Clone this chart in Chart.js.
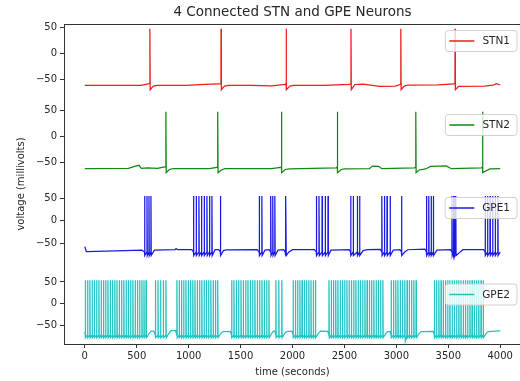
<!DOCTYPE html>
<html>
<head>
<meta charset="utf-8">
<script src="https://cdn.jsdelivr.net/npm/chart.js@4/dist/chart.umd.min.js"></script>
<style>
  html, body { margin: 0; padding: 0; background: #fff; overflow: hidden; }
  #wrap { position: relative; width: 530px; height: 381px; }
</style>
</head>
<body>
<div id="wrap"><canvas id="c"></canvas></div>
<script>
// ---------- data ----------
const seriesNames = ['STN1', 'STN2', 'GPE1', 'GPE2'];
const seriesColors = ['#ee1c1c', '#118811', '#1a1ae6', '#22c2c2'];
const xTicks = [0, 500, 1000, 1500, 2000, 2500, 3000, 3500, 4000];
const yTicks = [50, 0, -50];

// spike peak / after-spike trough / pre-spike level (mV)
const spikePeak   = [47, 48, 55, 54];
const spikeTrough = [-70, -69, -78, -78];
const spikePre    = [-58, -58, -70, -72];

// spike times (ms)
const stn1Spikes = [627, 1312, 1939, 2563, 3043, 3565];
const stn2Spikes = [781, 1280, 1894, 2432, 3187, 3830];
const gpe1Spikes = [576, 599, 618, 637,
  1047, 1073, 1099, 1124, 1150, 1176, 1201, 1224,
  1306,
  1680, 1705,
  1790, 1810, 1830,
  1930, 1937,
  2230, 2255, 2285, 2315, 2342,
  2560, 2585, 2624, 2646,
  2860, 2885, 2910, 2940,
  3050,
  3290, 3312, 3335, 3356,
  3535, 3550, 3560, 3572,
  3855, 3878, 3902, 3927, 3952, 3977];
const gpe2Spikes = [
  5, 27, 49, 71, 92, 114, 136, 158, 180, 201, 223, 245, 267, 289, 310, 332, 354, 376, 398, 419, 441, 463, 485, 507, 528, 550, 570, 590,
  680, 705, 730, 756, 781,
  887, 909, 931, 952, 974, 996, 1018, 1040, 1061, 1083, 1105, 1127, 1149, 1170, 1192, 1214, 1236, 1258, 1280,
  1414, 1436, 1459, 1481, 1504, 1526, 1549, 1571, 1594, 1616, 1638, 1661, 1683, 1706, 1728, 1751, 1773,
  1840, 1868, 1897,
  2006, 2028, 2049, 2071, 2092, 2114, 2135, 2157, 2178, 2200, 2221,
  2351, 2373, 2394, 2416, 2437, 2459, 2481, 2502, 2524, 2545, 2567, 2589, 2610, 2632, 2653, 2675, 2697, 2718, 2740, 2761, 2783, 2805, 2826, 2848, 2870,
  2950, 2972, 2994, 3015, 3037, 3059, 3081, 3103, 3124, 3146, 3168, 3190,
  3366, 3387, 3409, 3430, 3451, 3473, 3494, 3515, 3537, 3558, 3580, 3601, 3622, 3644, 3665, 3686, 3708, 3729, 3750, 3772, 3793, 3815, 3836];

// resting membrane voltage between spikes [time, mV]
const stn1Rest = [[0,-61.5],[300,-61.5],[540,-61.5],[610,-59],
  [660,-63],[700,-61.5],[980,-61.5],[1150,-60],[1300,-59],
  [1345,-63],[1380,-61.5],[1600,-61.5],[1800,-62.5],[1930,-60],
  [1975,-63],[2010,-61.5],[2300,-61.5],[2550,-60],
  [2600,-60],[2680,-59.5],[2840,-63.5],[2990,-63],[3035,-60],
  [3075,-63],[3110,-61],[3400,-60.5],[3555,-59],
  [3600,-63.5],[3850,-63],[3930,-61],[3965,-58.5],[4000,-61]];
const stn2Rest = [[0,-61.5],[420,-61],[480,-57],[522,-55],[545,-61],[600,-60],[700,-61],[770,-58],
  [815,-63],[850,-61.5],[1200,-61.5],[1270,-59],
  [1315,-64],[1350,-61.5],[1800,-61.5],[1885,-59],
  [1930,-63],[1970,-62],[2420,-60],
  [2470,-63],[2500,-62],[2740,-61.5],[2770,-56.5],[2830,-57],[2860,-61.5],[3175,-60],
  [3220,-64],[3280,-62],[3330,-57],[3480,-56],[3530,-61.5],[3818,-60],
  [3860,-66],[3900,-62],[4000,-61.5]];
const gpe1Rest = [[0,-58],[15,-69],[300,-67.5],[550,-66],
  [670,-66],[870,-64.5],[880,-62.5],[895,-65],[1030,-65],
  [1255,-65],[1290,-65],
  [1335,-67],[1360,-65.5],[1660,-64.5],
  [1735,-66],[1775,-65],
  [1860,-66],[1915,-65],
  [1965,-70],[2000,-65],[2210,-64.5],
  [2370,-66],[2545,-65],
  [2680,-67],[2720,-65],[2845,-64],
  [2970,-66],[3035,-65],
  [3080,-70],[3110,-65],[3275,-63.5],
  [3390,-66],[3520,-64.5],
  [3605,-72],[3640,-65],[3840,-64.5],
  [4000,-70]];
const gpe2Rest = [[0,-64],
  [620,-68],[640,-63],[665,-63],
  [810,-68],[830,-62],[875,-62],
  [1310,-68],[1330,-64],[1400,-63.5],
  [1800,-68],[1815,-63],[1830,-63],
  [1925,-68],[1945,-64],[1995,-63],
  [2250,-68],[2270,-63],[2340,-63.5],
  [2900,-68],[2915,-64],[2940,-64],
  [3086,-86],
  [3220,-68],[3240,-64],[3355,-63.5],
  [3865,-68],[3885,-64],[3950,-63],[4000,-62.5]];

const allSpikes = [stn1Spikes, stn2Spikes, gpe1Spikes, gpe2Spikes];
const allRest = [stn1Rest, stn2Rest, gpe1Rest, gpe2Rest];

// panel value ranges
const yMin = [-97.5, -90.9, -96.9, -92.4];
const yMax = [56.3, 62.9, 82.1, 91.1];

// ---------- build traces from the read values ----------
function buildTrace(rest, spikes, peak, trough, pre) {
  const pts = rest.map(p => ({ x: p[0], y: p[1] }));
  spikes.forEach(t => {
    pts.push({ x: t - 1, y: pre }, { x: t, y: peak }, { x: t + 3, y: trough });
  });
  pts.sort((a, b) => a.x - b.x);
  return pts;
}

const FONT = '"DejaVu Sans", "Liberation Sans", sans-serif';
const TXT = '#262626';

const datasets = seriesNames.map((name, i) => ({
  label: name,
  data: buildTrace(allRest[i], allSpikes[i], spikePeak[i], spikeTrough[i], spikePre[i]),
  borderColor: seriesColors[i],
  backgroundColor: seriesColors[i],
  borderWidth: 1.25,
  pointRadius: 0,
  tension: 0,
  fill: false,
  yAxisID: 'y' + (i + 1),
  xAxisID: 'x'
}));

function minusFmt(v) { return v < 0 ? '\u2212' + Math.abs(v) : String(v); }

const scales = {
  x: {
    type: 'linear', position: 'bottom', min: -200, max: 4200,
    afterBuildTicks: s => { s.ticks = xTicks.map(v => ({ value: v })); },
    afterFit: s => { s.height = 37; },
    ticks: { color: TXT, font: { family: FONT, size: 10 }, padding: 2, maxRotation: 0, autoSkip: false, callback: v => minusFmt(v) },
    grid: { drawOnChartArea: false, drawTicks: true, tickLength: 4, color: '#333' },
    border: { display: true, color: '#333', width: 1 }
  }
};
// stacked left axes: the last one defined is placed on top, so define bottom panel first
for (let i = 3; i >= 0; i--) {
  scales['y' + (i + 1)] = {
    type: 'linear', position: 'left', stack: 'panels', stackWeight: 1,
    min: yMin[i], max: yMax[i],
    afterBuildTicks: s => { s.ticks = yTicks.map(v => ({ value: v })); },
    afterFit: s => { s.width = 34; },
    ticks: { color: TXT, font: { family: FONT, size: 10 }, padding: 3, autoSkip: false, callback: v => minusFmt(v) },
    grid: { drawOnChartArea: false, drawTicks: true, tickLength: 4, color: '#333' },
    border: { display: true, color: '#333', width: 1 }
  };
}

const legendTops = [30.5, 114.5, 197.5, 284];

const decorPlugin = {
  id: 'decor',
  afterDatasetsDraw(chart) {
    const ctx = chart.ctx;
    const a = chart.chartArea;
    ctx.save();
    chart.data.datasets.forEach((ds, i) => {
      ctx.font = '10.5px ' + FONT;
      const tw = ctx.measureText(ds.label).width;
      const h = 21, w = 4 + 25 + 8 + tw + 7;
      const right = a.right - 4, left = right - w, top = legendTops[i];
      ctx.beginPath();
      if (ctx.roundRect) ctx.roundRect(left, top, w, h, 3); else ctx.rect(left, top, w, h);
      ctx.fillStyle = 'rgba(255,255,255,0.8)';
      ctx.fill();
      ctx.strokeStyle = 'rgba(204,204,204,0.9)';
      ctx.lineWidth = 1;
      ctx.stroke();
      const cy = top + h / 2;
      ctx.beginPath();
      ctx.moveTo(left + 4, cy);
      ctx.lineTo(left + 29, cy);
      ctx.strokeStyle = ds.borderColor;
      ctx.lineWidth = 1.5;
      ctx.stroke();
      ctx.fillStyle = TXT;
      ctx.textAlign = 'left';
      ctx.textBaseline = 'middle';
      ctx.fillText(ds.label, left + 37, cy + 0.5);
    });
    ctx.restore();
  },
  afterDraw(chart) {
    const ctx = chart.ctx;
    const a = chart.chartArea;
    ctx.save();
    ctx.strokeStyle = '#333';
    ctx.lineWidth = 1;
    ctx.beginPath();
    ctx.moveTo(a.left, a.top + 0.5);
    ctx.lineTo(a.right, a.top + 0.5);
    ctx.lineTo(a.right, a.bottom);
    ctx.stroke();
    const cx = (a.left + a.right) / 2;
    ctx.fillStyle = TXT;
    ctx.textAlign = 'center';
    ctx.textBaseline = 'middle';
    ctx.font = '13.5px ' + FONT;
    ctx.fillText('4 Connected STN and GPE Neurons', cx, 12);
    ctx.font = '10px ' + FONT;
    ctx.fillText('time (seconds)', cx, 372);
    ctx.translate(21, (a.top + a.bottom) / 2);
    ctx.rotate(-Math.PI / 2);
    ctx.fillText('voltage (millivolts)', 0, 0);
    ctx.restore();
  }
};

new Chart(document.getElementById('c'), {
  type: 'line',
  data: { datasets },
  options: {
    responsive: true,
    maintainAspectRatio: false,
    animation: false,
    events: [],
    layout: { padding: { left: 30, top: 24, right: 9, bottom: 0 } },
    plugins: { legend: { display: false }, tooltip: { enabled: false }, title: { display: false } },
    scales
  },
  plugins: [decorPlugin]
});
</script>
</body>
</html>
